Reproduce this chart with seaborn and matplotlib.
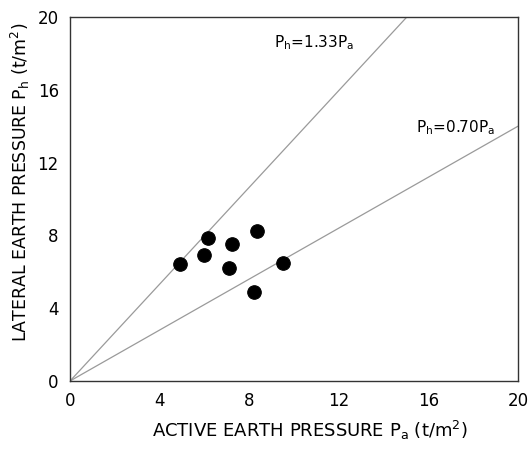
import matplotlib
matplotlib.use('Agg')
import matplotlib.pyplot as plt
import seaborn as sns
import numpy as np
import pandas as pd

# measured points (active Pa, lateral Ph) in t/m2
pa_vals = [4.9, 6.15, 6.0, 7.25, 8.35, 7.1, 9.5, 8.2]
ph_vals = [6.45, 7.85, 6.95, 7.55, 8.25, 6.2, 6.5, 4.9]

# reference lines Ph = k * Pa
line_ratios = [1.33, 0.70]
line_labels = [r'P$_{\mathrm{h}}$=1.33P$_{\mathrm{a}}$', r'P$_{\mathrm{h}}$=0.70P$_{\mathrm{a}}$']
label_pos = [(9.1, 18.6), (15.45, 13.9)]

x_ticks = [0, 4, 8, 12, 16, 20]
y_ticks = [0, 4, 8, 12, 16, 20]

sns.set_style("white")
plt.rcParams['font.family'] = ['DejaVu Sans']
plt.rcParams['mathtext.default'] = 'regular'
plt.rcParams['text.color'] = 'black'
plt.rcParams['axes.labelcolor'] = 'black'
plt.rcParams['xtick.color'] = 'black'
plt.rcParams['ytick.color'] = 'black'

fig = plt.figure(figsize=(5.31, 4.5), dpi=100)
ax = fig.add_axes([0.1318, 0.1533, 0.8437, 0.8089])

xs = np.array([0, 20])
for k in line_ratios:
    df_line = pd.DataFrame({'x': xs, 'y': k * xs})
    sns.lineplot(data=df_line, x='x', y='y', ax=ax, color='#9a9a9a', linewidth=0.9)

for (lx, ly), txt in zip(label_pos, line_labels):
    ax.text(lx, ly, txt, fontsize=11, va='center', ha='left')

df_pts = pd.DataFrame({'Pa': pa_vals, 'Ph': ph_vals})
sns.scatterplot(data=df_pts, x='Pa', y='Ph', ax=ax, color='black', s=95, edgecolor='black', zorder=5)

ax.set_xlim(0, 20)
ax.set_ylim(0, 20)
ax.set_xticks(x_ticks)
ax.set_yticks(y_ticks)
ax.tick_params(direction='in', length=4, labelsize=12, color='#333333', pad=8)
for sp in ax.spines.values():
    sp.set_color('#333333')
    sp.set_linewidth(1.0)

ax.set_xlabel(r'ACTIVE EARTH PRESSURE P$_{\mathrm{a}}$ (t/m$^{2}$)', fontsize=13)
ax.set_ylabel(r'LATERAL EARTH PRESSURE P$_{\mathrm{h}}$ (t/m$^{2}$)', fontsize=12.5)
ax.xaxis.set_label_coords(0.535, -0.105)
ax.yaxis.set_label_coords(-0.085, 0.545)

fig.savefig('out.png', dpi=100)
